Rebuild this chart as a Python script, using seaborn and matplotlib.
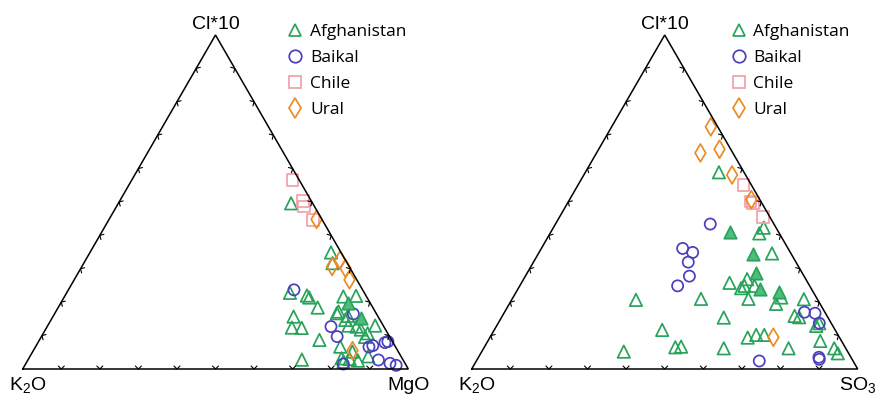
import matplotlib

matplotlib.use("Agg")

import matplotlib.pyplot as plt
import numpy as np
import pandas as pd
import seaborn as sns
from matplotlib.lines import Line2D

# ternary compositions (percent); K2O is the remainder
REGIONS = ["Afghanistan", "Baikal", "Chile", "Ural"]

# panel 1: Cl*10 / MgO
afg_left_cl = [49.6, 34.9, 31.7, 22.8, 22.0, 21.4, 18.4, 15.7, 12.4, 12.3, 8.7, 2.8, 21.7, 21.9, 17.2, 16.7,
               15.9, 13.0, 12.7, 13.0, 11.8, 10.7, 9.6, 6.7, 5.2, 3.8, 3.2, 3.0, 2.5, 2.2, 14.7]
afg_left_mgo = [44.8, 62.5, 64.5, 57.9, 62.7, 63.6, 67.3, 62.4, 63.6, 66.2, 72.6, 71.0, 72.3, 75.5, 73.3, 73.1,
                76.4, 78.0, 80.2, 84.9, 81.8, 84.1, 84.0, 79.0, 82.9, 87.7, 81.1, 83.3, 85.7, 82.1, 76.3]
afg_left_solid_cl = [19.7, 15.3]
afg_left_solid_mgo = [74.4, 80.1]
baikal_left_cl = [23.7, 12.7, 9.7, 16.5, 7.0, 7.9, 8.2, 2.7, 1.7, 1.1, 1.5, 6.6]
baikal_left_mgo = [58.5, 73.6, 76.7, 77.5, 87.3, 90.0, 90.6, 90.9, 94.4, 96.3, 82.4, 86.5]
chile_left_cl = [56.5, 50.3, 48.7, 44.7]
chile_left_mgo = [41.7, 47.5, 48.6, 53.0]
ural_left_cl = [44.8, 32.6, 30.7, 30.2, 26.7, 5.5]
ural_left_mgo = [53.8, 66.0, 64.9, 68.6, 71.4, 82.8]

# panel 2: Cl*10 / SO3
afg_right_cl = [58.9, 42.3, 40.6, 34.6, 25.8, 26.9, 24.9, 24.2, 24.9, 21.0, 21.4, 19.5, 20.9, 20.7, 21.0, 15.4,
                15.9, 15.5, 12.9, 11.7, 9.4, 10.2, 10.2, 8.4, 5.2, 6.5, 6.7, 6.2, 6.2, 6.2, 4.7, 13.7]
afg_right_so3 = [34.6, 54.5, 54.2, 60.5, 53.9, 57.9, 58.2, 57.7, 60.8, 61.2, 69.5, 69.1, 75.6, 32.2, 48.9, 57.6,
                 75.7, 77.1, 82.8, 43.5, 66.8, 68.6, 70.7, 86.1, 36.8, 49.5, 50.9, 62.2, 79.0, 90.8, 92.5, 83.2]
afg_right_solid_cl = [41.1, 34.4, 28.7, 24.0, 23.1]
afg_right_solid_so3 = [46.3, 55.6, 59.3, 62.8, 68.1]
baikal_right_cl = [43.4, 36.1, 34.9, 32.0, 27.8, 24.9, 17.0, 16.7, 13.7, 2.4, 3.5, 2.9]
baikal_right_so3 = [40.1, 36.6, 39.8, 40.1, 42.5, 40.9, 77.7, 80.6, 83.2, 73.3, 88.2, 88.6]
chile_right_cl = [55.1, 50.2, 49.7, 45.6]
chile_right_so3 = [42.9, 47.1, 48.0, 52.6]
ural_right_cl = [72.5, 64.7, 65.8, 58.1, 50.7, 9.5]
ural_right_so3 = [25.7, 26.9, 31.3, 38.4, 47.1, 73.4]

COLORS = {"Afghanistan": "#27a35a", "Baikal": "#4a3fbd", "Chile": "#f2a0a8", "Ural": "#ee8a25"}
MARKERS = {"Afghanistan": "^", "Baikal": "o", "Chile": "s", "Ural": "d"}
SIZES = {"Afghanistan": 80, "Baikal": 64, "Chile": 70, "Ural": 82}
H = np.sqrt(3) / 2


def to_xy(cl, other):
    cl = np.asarray(cl) / 100
    other = np.asarray(other) / 100
    return other + cl / 2, cl * H


def build_frame(groups, right_name):
    rows = []
    for region, cl, other in groups:
        x, y = to_xy(cl, other)
        for c, o, xi, yi in zip(cl, other, x, y):
            rows.append({"region": region, "Cl*10": c, right_name: o, "K2O": 100 - c - o, "x": xi, "y": yi})
    return pd.DataFrame(rows)


def draw_frame(ax):
    ax.plot([0, 1, 0.5, 0], [0, 0, H, 0], color="black", lw=1.1, clip_on=False, solid_joinstyle="miter")
    edges = [
        (np.array([0, 0]), np.array([1, 0]), np.array([0, -1])),
        (np.array([0, 0]), np.array([0.5, H]), np.array([-H, 0.5])),
        (np.array([1, 0]), np.array([0.5, H]), np.array([H, 0.5])),
    ]
    arm = 0.011
    ang = np.deg2rad(45)
    for start, end, normal in edges:
        tangent = (end - start) / np.linalg.norm(end - start)
        for f in np.arange(0.1, 0.95, 0.1):
            p = start + f * (end - start)
            a1 = p + arm * (-normal * np.cos(ang) + tangent * np.sin(ang))
            a2 = p + arm * (-normal * np.cos(ang) - tangent * np.sin(ang))
            ax.plot([a1[0], p[0], a2[0]], [a1[1], p[1], a2[1]], color="black", lw=0.8, clip_on=False)


def draw_panel(ax, df, solid_cl, solid_other, right_label, legend_x):
    draw_frame(ax)
    sns.scatterplot(data=df, x="x", y="y", hue="region", style="region", size="region",
                    palette=COLORS, markers=MARKERS, sizes=SIZES, hue_order=REGIONS,
                    style_order=REGIONS, size_order=REGIONS, legend=False, ax=ax, clip_on=False)
    pts = ax.collections[-1]
    cols = pts.get_facecolors()
    pts.set_facecolors("none")
    pts.set_edgecolors(cols)
    pts.set_linewidths(1.25)

    sx, sy = to_xy(solid_cl, solid_other)
    sns.scatterplot(x=sx, y=sy, marker="^", s=SIZES["Afghanistan"], color="#4fbb7c",
                    edgecolor=COLORS["Afghanistan"], linewidth=1.25, ax=ax, clip_on=False)

    label_kw = dict(fontsize=14, family="Liberation Sans", ha="center", color="black")
    ax.text(0.5, H + 0.006, "Cl*10", va="bottom", **label_kw)
    ax.text(0.012, -0.042, "K$_2$O", va="center", **label_kw)
    ax.text(1.0, -0.042, right_label, va="center", **label_kw)

    handles = [Line2D([], [], ls="", marker=MARKERS[r], ms=9 if r != "Ural" else 10, mfc="none",
                      mec=COLORS[r], mew=1.25) for r in REGIONS]
    leg = ax.legend(handles, REGIONS, loc="upper left", bbox_to_anchor=(legend_x, 1.032), frameon=False,
                    prop={"family": "Open Sans", "size": 12.5}, handlelength=1.0, handletextpad=0.35,
                    labelspacing=0.56, borderpad=0, borderaxespad=0)
    for t in leg.get_texts():
        t.set_color("black")

    ax.set_xlim(0, 1)
    ax.set_ylim(0, H)
    ax.set_axis_off()


sns.set_theme(style="white")
plt.rcParams["font.family"] = ["Liberation Sans", "DejaVu Sans"]
plt.rcParams["mathtext.fontset"] = "custom"
plt.rcParams["mathtext.rm"] = "Liberation Sans"
plt.rcParams["mathtext.it"] = "Liberation Sans"

left_df = build_frame([("Afghanistan", afg_left_cl, afg_left_mgo), ("Baikal", baikal_left_cl, baikal_left_mgo),
                       ("Chile", chile_left_cl, chile_left_mgo), ("Ural", ural_left_cl, ural_left_mgo)], "MgO")
right_df = build_frame([("Afghanistan", afg_right_cl, afg_right_so3), ("Baikal", baikal_right_cl, baikal_right_so3),
                        ("Chile", chile_right_cl, chile_right_so3), ("Ural", ural_right_cl, ural_right_so3)], "SO3")

fig = plt.figure(figsize=(8.82, 3.95), dpi=100)
ax1 = fig.add_axes([22.7 / 882, 26 / 395, 385.6 / 882, 334 / 395])
ax2 = fig.add_axes([471.7 / 882, 26 / 395, 386 / 882, 334 / 395])

draw_panel(ax1, left_df, afg_left_solid_cl, afg_left_solid_mgo, "MgO", 0.684)
draw_panel(ax2, right_df, afg_right_solid_cl, afg_right_solid_so3, "SO$_3$", 0.669)

fig.savefig("out.png", dpi=100)
plt.close(fig)
